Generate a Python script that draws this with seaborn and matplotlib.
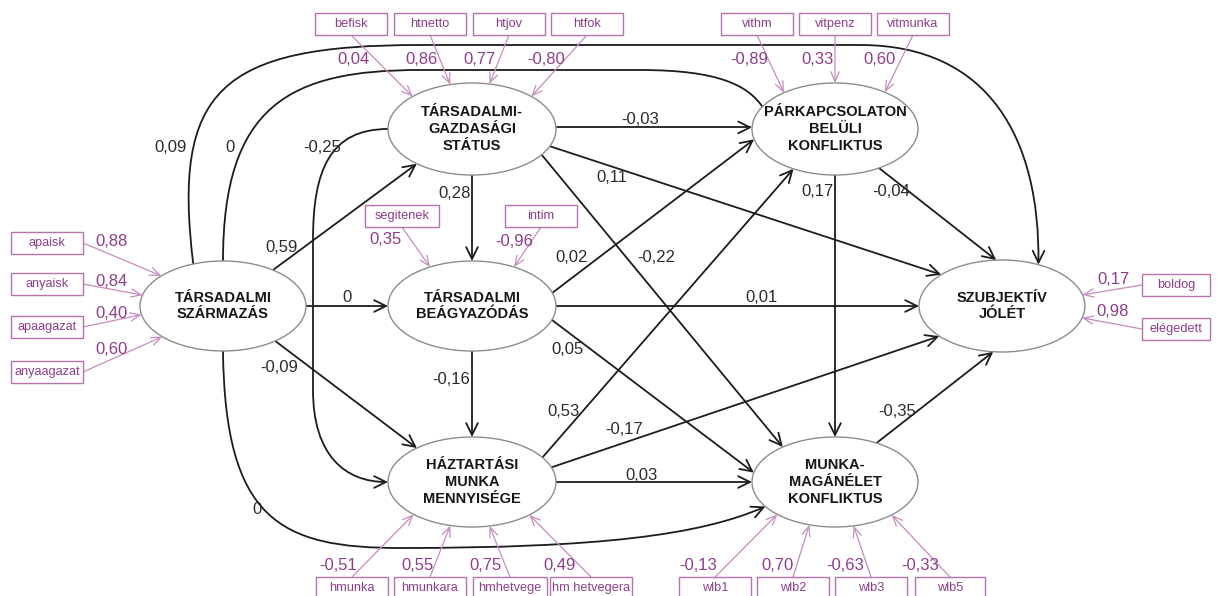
import numpy as np
import matplotlib
matplotlib.use("Agg")
import matplotlib.pyplot as plt
import seaborn as sns
from matplotlib.patches import Ellipse, Rectangle, FancyArrowPatch
from matplotlib.path import Path

# ---------------- data ----------------
latent_keys = ["S", "G", "B", "H", "P", "M", "W"]
latent_labels = [
    "TÁRSADALMI\nSZÁRMAZÁS",
    "TÁRSADALMI-\nGAZDASÁGI\nSTÁTUS",
    "TÁRSADALMI\nBEÁGYAZÓDÁS",
    "HÁZTARTÁSI\nMUNKA\nMENNYISÉGE",
    "PÁRKAPCSOLATON\nBELÜLI\nKONFLIKTUS",
    "MUNKA-\nMAGÁNÉLET\nKONFLIKTUS",
    "SZUBJEKTÍV\nJÓLÉT",
]

path_from = ["S", "S", "S", "S", "S", "S", "G", "G", "G", "G", "G",
             "B", "B", "B", "B", "H", "H", "H", "P", "P", "M"]
path_to = ["G", "B", "H", "M", "P", "W", "B", "P", "W", "M", "H",
           "P", "W", "M", "H", "P", "W", "M", "M", "W", "W"]
path_coef = [0.59, 0, -0.09, 0, 0, 0.09, 0.28, -0.03, 0.11, -0.22, -0.25,
             0.02, 0.01, 0.05, -0.16, 0.53, -0.17, 0.03, 0.17, -0.04, -0.35]

indicator_names = ["apaisk", "anyaisk", "apaagazat", "anyaagazat",
                   "befisk", "htnetto", "htjov", "htfok",
                   "segitenek", "intim",
                   "hmunka", "hmunkara", "hmhetvege", "hm hetvegera",
                   "vithm", "vitpenz", "vitmunka",
                   "wlb1", "wlb2", "wlb3", "wlb5",
                   "boldog", "elégedett"]
indicator_factor = ["S", "S", "S", "S", "G", "G", "G", "G", "B", "B",
                    "H", "H", "H", "H", "P", "P", "P", "M", "M", "M", "M", "W", "W"]
indicator_loading = [0.88, 0.84, 0.40, 0.60,
                     0.04, 0.86, 0.77, -0.80,
                     0.35, -0.96,
                     -0.51, 0.55, 0.75, 0.49,
                     -0.89, 0.33, 0.60,
                     -0.13, 0.70, -0.63, -0.33,
                     0.17, 0.98]

# ---------------- layout (pixel space) ----------------
NODE_CENTER = {"S": (223, 306), "G": (472, 129), "B": (472, 306), "H": (472, 482),
               "P": (835, 129), "M": (835, 482), "W": (1002, 306)}
NODE_SEMI = {"S": (83, 45), "G": (84, 46), "B": (84, 45), "H": (84, 45),
             "P": (83, 46), "M": (83, 45), "W": (83, 46)}

# per edge: (start angle, end angle, inner bezier control points or None, arrow)
EDGE_GEOM = [
    (53, 229, None, True),
    (0, 180, None, True),
    (-51, 131, None, True),
    (-90, 213, [("C", (225, 520), (280, 548), (400, 548)), ("C", (600, 548), (700, 535), None)], True),
    (90, 151, [("C", (223, 105), (290, 70), (420, 70)), ("L", (640, 70)),
               ("C", (720, 70), (748, 86), None)], False),
    (111, 64, [("C", (172, 90), (220, 45), (420, 45)), ("L", (860, 45)),
               ("C", (990, 45), (1040, 140), None)], True),
    (270, 90, None, True),
    (2, 178, None, True),
    (-22, 137, None, True),
    (-34, 129, None, True),
    (180, 180, [("C", (330, 129), (313, 170), (313, 240)), ("L", (313, 390)),
                ("C", (313, 455), (345, 482), None)], True),
    (17, 193, None, True),
    (0, 180, None, True),
    (-18, 168, None, True),
    (270, 90, None, True),
    (33, 240, None, True),
    (19, 221, None, True),
    (0, 180, None, True),
    (270, 90, None, True),
    (-58, 94, None, True),
    (60, 264, None, True),
]
EDGE_LABEL_POS = [(282, 248), (347, 297), (279, 367), (257, 510), (230, 147), (171, 147),
                  (455, 193), (640, 120), (612, 178), (656, 258), (322, 147),
                  (572, 258), (762, 297), (568, 349), (451, 380),
                  (564, 412), (624, 430), (642, 475),
                  (817, 191), (891, 191), (897, 412)]

BOX_H = 22
# box centre, box width, side of box the arrow leaves from, target angle, loading label position
IND_GEOM = [
    ((47, 243), 72, "right", 138, (112, 241)),
    ((47, 284), 72, "right", 166, (112, 282)),
    ((47, 327), 72, "right", 191, (112, 313)),
    ((47, 372), 72, "right", 223, (112, 349)),
    ((351, 24), 72, "bottom", 135, (353, 60)),
    ((430, 24), 72, "bottom", 105, (422, 60)),
    ((509, 24), 72, "bottom", 78, (480, 60)),
    ((587, 24), 72, "bottom", 45, (546, 60)),
    ((402, 216), 74, "bottom", 120, (386, 240)),
    ((541, 216), 72, "bottom", 60, (514, 241)),
    ((352, 588), 72, "top", 226, (338, 565)),
    ((430, 588), 72, "top", 255, (417, 565)),
    ((510, 588), 74, "top", 282, (485, 565)),
    ((591, 588), 82, "top", 313, (560, 565)),
    ((757, 24), 72, "bottom", 128, (749, 60)),
    ((835, 24), 72, "bottom", 90, (817, 60)),
    ((913, 24), 72, "bottom", 53, (880, 60)),
    ((715, 588), 72, "top", 226, (698, 565)),
    ((793, 588), 72, "top", 252, (778, 565)),
    ((871, 588), 72, "top", 283, (845, 565)),
    ((950, 588), 70, "top", 313, (920, 565)),
    ((1176, 285), 68, "left", 14, (1113, 280)),
    ((1176, 329), 68, "left", -15, (1113, 312)),
]

# ---------------- style ----------------
sns.set_theme(style="white")
plt.rcParams["font.family"] = ["Liberation Sans", "DejaVu Sans"]

BLACK = "#1c1c1c"
PURPLE_TXT = "#8f3d8c"
PURPLE_BOX = "#b574ad"
PURPLE_LINE = "#c68dbe"
ELL_EDGE = "#8c8c8c"


def fmt(v):
    if v == 0:
        return "0"
    return f"{v:.2f}".replace(".", ",")


def on_ellipse(key, ang):
    cx, cy = NODE_CENTER[key]
    a, b = NODE_SEMI[key]
    t = np.deg2rad(ang)
    return (cx + a * np.cos(t), cy - b * np.sin(t))


fig = plt.figure(figsize=(12.17, 5.96), dpi=100)
ax = fig.add_axes([0, 0, 1, 1])
ax.set_xlim(0, 1217)
ax.set_ylim(596, 0)
ax.axis("off")

HEAD = "->,head_length=0.85,head_width=0.42"

# structural paths
for src, dst, coef, geom, lpos in zip(path_from, path_to, path_coef, EDGE_GEOM, EDGE_LABEL_POS):
    a0, a1, ctrl, arrow = geom
    p0 = on_ellipse(src, a0)
    p1 = on_ellipse(dst, a1)
    if ctrl is None:
        verts = [p0, p1]
        codes = [Path.MOVETO, Path.LINETO]
    else:
        verts = [p0]
        codes = [Path.MOVETO]
        for seg in ctrl:
            if seg[0] == "C":
                c1, c2, end = seg[1], seg[2], seg[3] if seg[3] is not None else p1
                verts += [c1, c2, end]
                codes += [Path.CURVE4] * 3
            else:
                verts.append(seg[1])
                codes.append(Path.LINETO)
    pth = Path(verts, codes)
    arr = FancyArrowPatch(path=pth, arrowstyle=HEAD if arrow else "-",
                          mutation_scale=10, color=BLACK, lw=1.3, zorder=2)
    ax.add_patch(arr)
    ax.text(lpos[0], lpos[1], fmt(coef), ha="center", va="center",
            fontsize=12, color="#2b2b2b", zorder=5)

# latent ellipses
for key, lab in zip(latent_keys, latent_labels):
    cx, cy = NODE_CENTER[key]
    a, b = NODE_SEMI[key]
    ax.add_patch(Ellipse((cx, cy), 2 * a, 2 * b, facecolor="white",
                         edgecolor=ELL_EDGE, lw=1.0, zorder=3))
    ax.text(cx, cy, lab, ha="center", va="center", fontsize=10.5,
            fontweight="bold", color="#161616", linespacing=1.25, zorder=4)

# indicators
for name, fac, load, geom in zip(indicator_names, indicator_factor, indicator_loading, IND_GEOM):
    (bx, by), bw, side, ang, lpos = geom
    ax.add_patch(Rectangle((bx - bw / 2, by - BOX_H / 2), bw, BOX_H,
                           facecolor="white", edgecolor=PURPLE_BOX, lw=1.0, zorder=3))
    ax.text(bx, by, name, ha="center", va="center", fontsize=9.2,
            color=PURPLE_TXT, zorder=4)
    if side == "right":
        s = (bx + bw / 2, by)
    elif side == "left":
        s = (bx - bw / 2, by)
    elif side == "bottom":
        s = (bx, by + BOX_H / 2)
    else:
        s = (bx, by - BOX_H / 2)
    e = on_ellipse(fac, ang)
    ax.add_patch(FancyArrowPatch(s, e, arrowstyle="->,head_length=0.7,head_width=0.3",
                                 mutation_scale=10, color=PURPLE_LINE, lw=0.9,
                                 shrinkA=0, shrinkB=0, zorder=2))
    ax.text(lpos[0], lpos[1], fmt(load), ha="center", va="center",
            fontsize=12, color=PURPLE_TXT, zorder=5)

fig.savefig("out.png", dpi=100, facecolor="white")
